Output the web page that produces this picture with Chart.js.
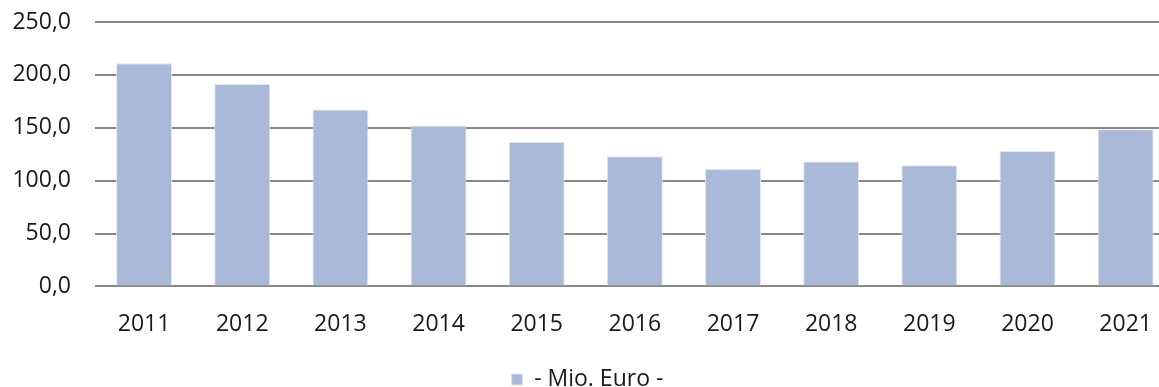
<!DOCTYPE html>
<html>
<head>
<meta charset="utf-8">
<script src="https://cdn.jsdelivr.net/npm/chart.js@4/dist/chart.umd.min.js"></script>
<style>
  html, body { margin: 0; padding: 0; background: #fff; overflow: hidden; }
  #wrap { position: relative; width: 1176px; height: 402px; }
</style>
</head>
<body>
<div id="wrap"><canvas id="mainChart"></canvas></div>
<script>
// Jahreswerte in Mio. Euro
const years = ['2011', '2012', '2013', '2014', '2015', '2016', '2017', '2018', '2019', '2020', '2021'];
const values = [210.9, 191.3, 167.3, 152.2, 136.6, 123.1, 111.1, 118.1, 114.6, 128.1, 148.7];
const seriesLabel = '- Mio. Euro -';
const yMax = 250;
const yStep = 50;

const FONT = { family: '"Open Sans", "Noto Sans", sans-serif', size: 23 };
const TEXT = '#1a1a1a';
const GRID = '#888888';

const ctx = document.getElementById('mainChart').getContext('2d');

new Chart(ctx, {
    type: 'bar',
    data: {
        labels: years,
        datasets: [{
            label: seriesLabel,
            data: values,
            backgroundColor: '#aab9d7',
            borderColor: '#dfe6f2',
            borderWidth: 1,
            barPercentage: 0.57,
            categoryPercentage: 1
        }]
    },
    options: {
        responsive: true,
        maintainAspectRatio: false,
        animation: false,
        layout: { padding: { top: 22, right: 1, bottom: 1, left: 0 } },
        scales: {
            x: {
                grid: { display: false, drawTicks: false },
                border: { display: false },
                ticks: { color: TEXT, font: FONT, padding: 24, maxRotation: 0 }
            },
            y: {
                min: 0,
                max: yMax,
                afterFit: (scale) => { scale.width = 95; },
                // unsichtbare Tick-Striche als Abstand zwischen Beschriftung und Gitter
                grid: { color: GRID, lineWidth: 2, drawTicks: true, tickLength: 24, tickColor: 'rgba(0,0,0,0)' },
                border: { display: false },
                ticks: {
                    stepSize: yStep,
                    color: TEXT,
                    font: FONT,
                    padding: 0,
                    callback: (v) => v.toFixed(1).replace('.', ',')
                }
            }
        },
        plugins: {
            legend: {
                position: 'bottom',
                labels: {
                    color: TEXT,
                    font: FONT,
                    boxWidth: 11,
                    boxHeight: 11,
                    padding: 6
                }
            },
            tooltip: { enabled: false }
        }
    }
});
</script>
</body>
</html>
